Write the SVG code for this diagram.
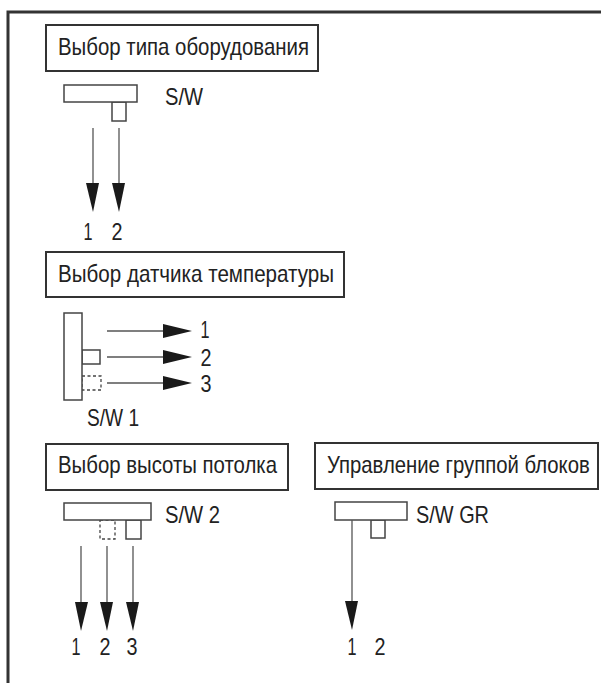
<svg xmlns="http://www.w3.org/2000/svg" width="601" height="683" viewBox="0 0 601 683">
<style>
text{font-family:"Liberation Sans",Arial,sans-serif;font-size:24px;fill:#222}
.n{text-anchor:middle;font-size:23px}
.box{fill:#fff;stroke:#333;stroke-width:2}
.sw{fill:#fff;stroke:#444;stroke-width:1.5}
.dash{fill:#fff;stroke:#444;stroke-width:1.3;stroke-dasharray:3 2.5}
.c line{stroke:#555;stroke-width:1.3}
.c polygon{fill:#1a1a1a}
</style>
<rect width="601" height="683" fill="#fff"/>
<path d="M8 683V12H601" fill="none" stroke="#333" stroke-width="3"/>

<g id="type-title"><rect class="box" x="46" y="25" width="272" height="46"/><text x="58" y="55" textLength="251" lengthAdjust="spacingAndGlyphs">Выбор типа оборудования</text></g>
<g id="type-sw"><rect class="sw" x="112" y="102" width="14" height="19"/><rect class="sw" x="64" y="85" width="73" height="17"/><text x="165" y="105" textLength="38" lengthAdjust="spacingAndGlyphs">S/W</text></g>
<g id="type-out-1"><text class="n" x="88" y="240" textLength="9" lengthAdjust="spacingAndGlyphs">1</text></g>
<g id="type-out-2"><text class="n" x="117" y="240" textLength="11" lengthAdjust="spacingAndGlyphs">2</text></g>

<g id="sensor-title"><rect class="box" x="46" y="252" width="298" height="45"/><text x="58" y="282" textLength="276" lengthAdjust="spacingAndGlyphs">Выбор датчика температуры</text></g>
<g id="sensor-sw"><rect class="sw" x="82" y="350" width="18" height="14"/><rect class="dash" x="82" y="376" width="19" height="14"/><rect class="sw" x="64" y="313" width="18" height="87"/><text x="87" y="426" textLength="52" lengthAdjust="spacingAndGlyphs">S/W 1</text></g>
<g id="sensor-out-1"><text class="n" x="205" y="338" textLength="9" lengthAdjust="spacingAndGlyphs">1</text></g>
<g id="sensor-out-2"><text class="n" x="206" y="366" textLength="11" lengthAdjust="spacingAndGlyphs">2</text></g>
<g id="sensor-out-3"><text class="n" x="206" y="392" textLength="11" lengthAdjust="spacingAndGlyphs">3</text></g>

<g id="height-title"><rect class="box" x="46" y="444" width="242" height="46"/><text x="58" y="473" textLength="219" lengthAdjust="spacingAndGlyphs">Выбор высоты потолка</text></g>
<g id="height-sw"><rect class="dash" x="100" y="520" width="15" height="19"/><rect class="sw" x="126" y="520" width="15" height="19"/><rect class="sw" x="64" y="503" width="87" height="17"/><text x="165" y="523" textLength="55" lengthAdjust="spacingAndGlyphs">S/W 2</text></g>
<g id="height-out-1"><text class="n" x="76" y="655" textLength="9" lengthAdjust="spacingAndGlyphs">1</text></g>
<g id="height-out-2"><text class="n" x="105" y="655" textLength="11" lengthAdjust="spacingAndGlyphs">2</text></g>
<g id="height-out-3"><text class="n" x="132" y="655" textLength="11" lengthAdjust="spacingAndGlyphs">3</text></g>

<g id="group-title"><rect class="box" x="315" y="443" width="283" height="46"/><text transform="translate(327 473) scale(.847 1)">Управление группой блоков</text></g>
<g id="group-sw"><rect class="sw" x="371" y="520" width="14" height="18"/><rect class="sw" x="335" y="502" width="72" height="18"/><text x="416" y="523" textLength="73" lengthAdjust="spacingAndGlyphs">S/W GR</text></g>
<g id="group-out-1"><text class="n" x="352" y="655" textLength="9" lengthAdjust="spacingAndGlyphs">1</text></g>
<g id="group-out-2"><text class="n" x="380" y="655" textLength="11" lengthAdjust="spacingAndGlyphs">2</text></g>

<g id="connectors" class="c">
<line x1="93" y1="128" x2="93" y2="190"/><polygon points="86,183 99,183 93,212"/>
<line x1="119" y1="128" x2="119" y2="190"/><polygon points="112,183 125,183 119,212"/>
<line x1="107" y1="331" x2="170" y2="331"/><polygon points="163,324 163,338 192,331"/>
<line x1="107" y1="357" x2="170" y2="357"/><polygon points="163,350 163,364 192,357"/>
<line x1="107" y1="383" x2="170" y2="383"/><polygon points="163,376 163,390 192,383"/>
<line x1="81" y1="546" x2="81" y2="608"/><polygon points="75,602 88,602 81,631"/>
<line x1="107" y1="546" x2="107" y2="608"/><polygon points="100,602 113,602 107,631"/>
<line x1="133" y1="546" x2="133" y2="608"/><polygon points="126,602 139,602 133,631"/>
<line x1="352" y1="520" x2="352" y2="608"/><polygon points="345,601 358,601 352,630"/>
</g>
</svg>
